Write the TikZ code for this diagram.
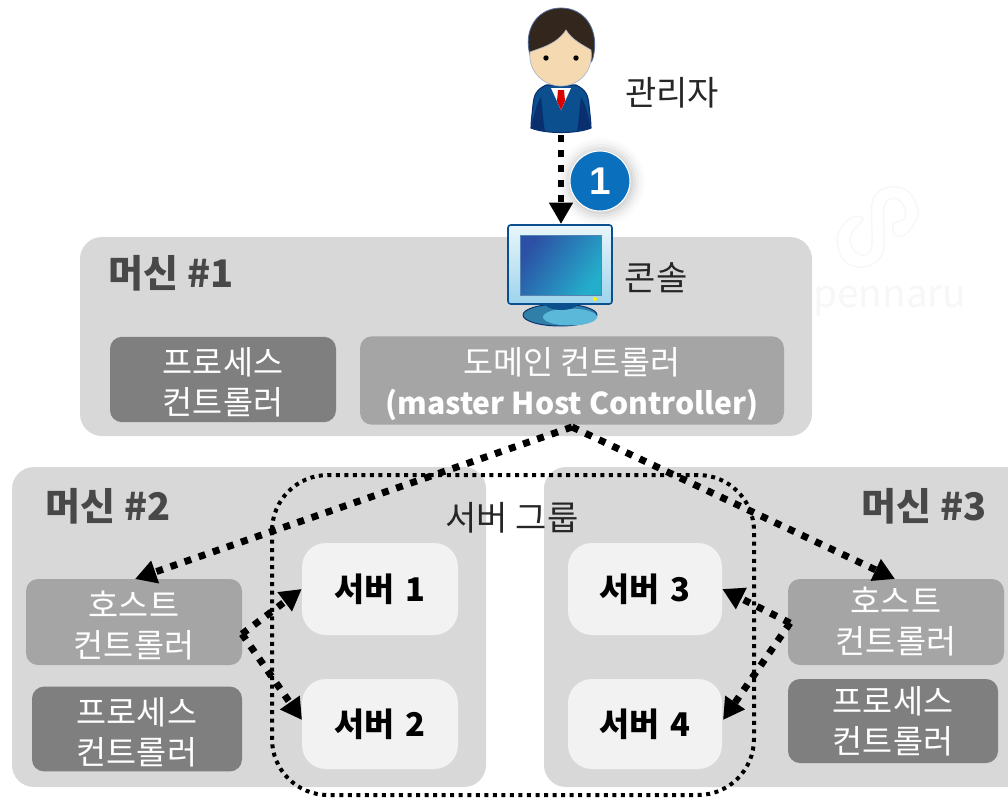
\documentclass[tikz,border=0pt]{standalone}
\usepackage{fontspec}
\setmainfont{Noto Sans CJK KR}
\newfontfamily\latinsans{Liberation Sans}
\usetikzlibrary{arrows.meta,shadings,calc}
\definecolor{machinegray}{HTML}{D8D8D8}
\definecolor{hostgray}{HTML}{A5A5A5}
\definecolor{procgray}{HTML}{7F7F7F}
\definecolor{servergray}{HTML}{F2F2F2}
\definecolor{titlegray}{HTML}{484848}
\definecolor{badge}{HTML}{0A70BE}
\definecolor{suit}{HTML}{0B4F8F}
\definecolor{suitdark}{HTML}{0A2F6F}
\definecolor{skin}{HTML}{F5D9B0}
\definecolor{hair}{HTML}{33261C}
\definecolor{screena}{HTML}{2C50A5}
\definecolor{screenb}{HTML}{24AECB}
\definecolor{bezela}{HTML}{EAF6FB}
\definecolor{bezelb}{HTML}{9CD3EC}
\definecolor{basea}{HTML}{2F7FA8}
\definecolor{baseb}{HTML}{5CB8D8}
\definecolor{faint}{HTML}{F7F7F7}
\newcommand{\toproom}{\rule{0pt}{25pt}}
\tikzset{
  x=0.75pt,y=-0.75pt,
  machine/.style={fill=machinegray,draw=none,rounded corners=16.5pt},
  innerbox/.style={rounded corners=9pt,draw=none,text=white,align=center,font=\fontsize{24.5}{30}\selectfont,anchor=center},
  hostbox/.style={innerbox,fill=hostgray},
  procbox/.style={innerbox,fill=procgray},
  serverbox/.style={fill=servergray,rounded corners=18pt,draw=none,text=black,font=\fontsize{24.5}{28}\selectfont\bfseries,anchor=center},
  machinetitle/.style={text=titlegray,font=\fontsize{28.5}{30}\selectfont\bfseries,anchor=center},
  plainlabel/.style={text=black!85,font=\fontsize{25.5}{30}\selectfont,anchor=center},
  flow/.style={line width=5.2pt,dash pattern=on 5.2pt off 6pt,-{Triangle[length=16pt,width=17pt]},black},
  groupline/.style={line width=3pt,dash pattern=on 3pt off 3.4pt,black,rounded corners=42pt}
}
\begin{document}
\begin{tikzpicture}
\useasboundingbox (0,0) rectangle (1008,801);
\fill[white] (0,0) rectangle (1008,801);
% machines
\fill[machine] (80,237) rectangle (812,436);
\fill[machine] (12,467) rectangle (486,787);
\fill[machine] (544,467) rectangle (1030,787);
\fill[white] (1008,460) rectangle (1032,790);
% watermark
\begin{scope}[shift={(800,170)},x=0.25pt,y=-0.25pt]
\draw[faint,line width=1pt] plot[smooth cycle,tension=0.6] coordinates {(285,195)(320,190)(355,130)(330,70)(285,50)(235,65)(215,110)(215,230)(185,255)(155,230)(155,190)(190,145)(150,145)(112,200)(130,270)(185,292)(235,270)(252,225)(252,110)(285,85)(315,115)(310,150)(280,160)};
\end{scope}
\node[text=faint,font=\fontsize{29}{30}\selectfont,anchor=center] (mark) at (890,301) {pennaru};
% inner boxes
\node[procbox,minimum width=169.5pt,minimum height=64pt] (p1) at (223,379.5) {\toproom 프로세스\\컨트롤러};
\node[hostbox,minimum width=318pt,minimum height=65pt] (dom) at (572,380.5) {\toproom 도메인 컨트롤러\\\fontsize{22.6}{30}\selectfont\bfseries (master Host Controller)};
\node[hostbox,minimum width=162pt,minimum height=64.5pt] (h2) at (134,622) {\toproom 호스트\\컨트롤러};
\node[procbox,minimum width=157.5pt,minimum height=63pt] (p2) at (137,729) {\toproom 프로세스\\컨트롤러};
\node[hostbox,minimum width=162pt,minimum height=64.5pt] (h3) at (896,622) {호스트\\컨트롤러};
\node[procbox,minimum width=157.5pt,minimum height=63pt] (p3) at (893,721) {프로세스\\컨트롤러};
\node[serverbox,minimum width=117pt,minimum height=69pt] (s1) at (380,589) {서버\hspace{0.12em} 1};
\node[serverbox,minimum width=117pt,minimum height=67.5pt] (s2) at (380,724) {서버\hspace{0.12em} 2};
\node[serverbox,minimum width=115.5pt,minimum height=69pt] (s3) at (645,589) {서버\hspace{0.12em} 3};
\node[serverbox,minimum width=115.5pt,minimum height=67.5pt] (s4) at (645,724) {서버\hspace{0.12em} 4};
% titles
\node[machinetitle] (t1) at (171,273) {머신 \#1};
\node[machinetitle] (t2) at (108,506) {머신 \#2};
\node[machinetitle] (t3) at (924,506) {머신 \#3};
\node[plainlabel] (tg) at (512,518) {서버 그룹};
\node[plainlabel] (ta) at (672,93) {관리자};
\node[plainlabel] (tc) at (656,278) {콘솔};
% server group
\draw[groupline] (272,475) rectangle (754,795);
% person
\coordinate (admin) at (561,135);
\fill[suit,draw=suitdark,line width=0.8pt] (546,85) .. controls (536,90) and (534,95) .. (533,105) .. controls (532,115) and (531,122) .. (531,128) .. controls (545,134) and (577,134) .. (591,128) .. controls (591,122) and (590,115) .. (589,105) .. controls (588,95) and (586,90) .. (576,85) -- cycle;
\fill[suitdark] (531,128) .. controls (534,115) and (536,105) .. (541,97) .. controls (543,112) and (543,122) .. (545,131) -- cycle;
\fill[suitdark] (591,128) .. controls (588,115) and (586,105) .. (581,97) .. controls (579,112) and (579,122) .. (577,131) -- cycle;
\fill[white] (551,88) -- (571,88) -- (561,110) -- cycle;
\fill[red!85!black] (558,90) -- (564,90) -- (565,101) -- (561,110) -- (557,101) -- cycle;
\fill[hair,draw=suitdark!70,line width=0.6pt] (530,55) .. controls (523,30) and (537,8) .. (561,8) .. controls (585,8) and (600,30) .. (593,58) .. controls (590,75) and (532,75) .. (530,55) -- cycle;
\fill[skin,draw=suitdark!35,line width=0.5pt] (530,52) .. controls (540,48) and (556,45) .. (566,30) .. controls (572,40) and (583,45) .. (591,50) .. controls (594,72) and (578,86) .. (561,86) .. controls (544,86) and (528,72) .. (530,52) -- cycle;
\fill[black] (546,58) circle[radius=2.7];
\fill[black] (576,58) circle[radius=2.7];
% monitor
\coordinate (console) at (561,224);
\fill[basea,draw=suitdark,line width=0.7pt] (560,315) ellipse [x radius=37,y radius=11];
\fill[baseb] (570,317) ellipse [x radius=27,y radius=8.5];
\fill[suit] (545,304) -- (578,304) .. controls (575,312) and (548,312) .. (545,304) -- cycle;
\shade[top color=bezela,bottom color=bezelb,draw=suit,line width=1.2pt,rounded corners=2pt] (508,225) rectangle (612,304);
\shade[left color=screena,right color=screenb,shading angle=55,draw=suit!70,line width=0.5pt] (520,235) rectangle (601,295);
\fill[yellow] (595,299) circle[radius=2];
% badge
\foreach \r/\o in {44/.015,41/.02,38/.03,35/.04,32/.05}{\fill[black,opacity=\o] (601,182) circle[radius=\r];}
\node[circle,fill=badge,draw=white,line width=0.8pt,minimum size=45pt,inner sep=0pt,text=white,font=\latinsans\fontsize{29}{30}\selectfont\bfseries] (b1) at (600,181) {1};
% flows
\coordinate (top) at (572,427);
\coordinate (h2tip) at (135,579);
\coordinate (h3tip) at (895,579);
\coordinate (h2o) at (242,634);
\coordinate (h3o) at (790,623);
\coordinate (s2tip) at (302,720);
\coordinate (s4tip) at (723,720);
\draw[flow] (admin) -- (console);
\draw[flow] (top) -- (h2tip);
\draw[flow] (top) -- (h3tip);
\draw[flow] (h2o) -- (s1.west);
\draw[flow] (h2o) -- (s2tip);
\draw[flow] (h3o) -- (s3.east);
\draw[flow] (h3o) -- (s4tip);
\end{tikzpicture}
\end{document}
